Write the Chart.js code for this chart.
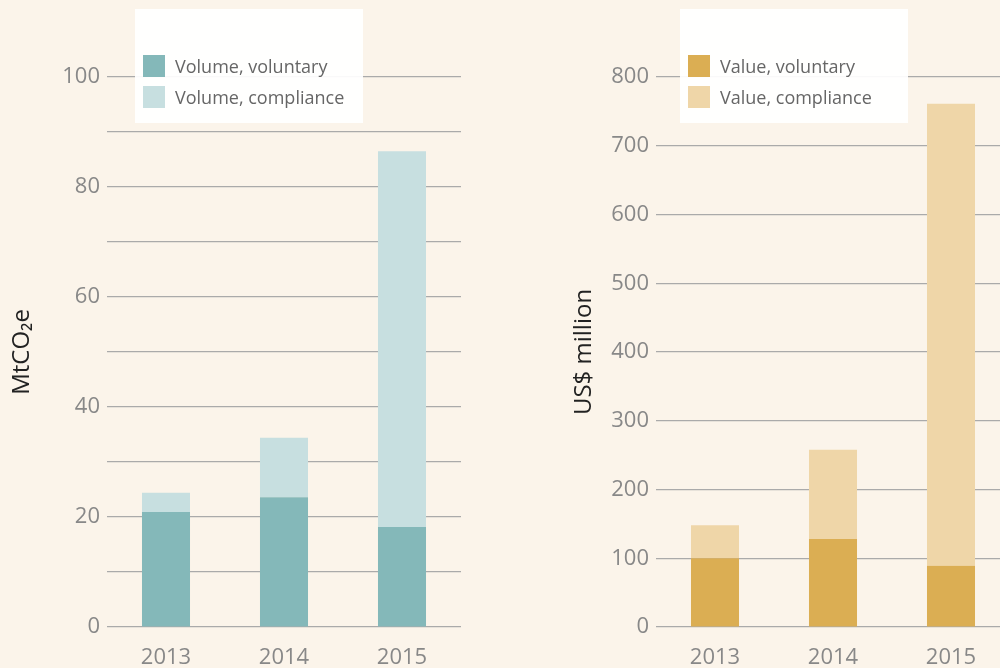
<!DOCTYPE html>
<html>
<head>
<meta charset="utf-8">
<script src="https://cdn.jsdelivr.net/npm/chart.js@4"></script>
<style>
  html, body { margin: 0; padding: 0; background: #fbf4ea; overflow: hidden; width: 1000px; height: 668px; }
  .wrap { position: absolute; top: 0; height: 668px; }
  .legend { position: absolute; top: 9px; width: 228px; height: 114px; background: rgba(255,255,255,0.93);
            font-family: "Open Sans", sans-serif; font-size: 18px; color: #666; }
  .legend .row { position: absolute; left: 8px; height: 22px; line-height: 22px; white-space: nowrap; }
  .legend .sw { display: inline-block; width: 22px; height: 22px; vertical-align: top; margin-right: 10px; }
</style>
</head>
<body>
<div class="wrap" style="left:0;width:480px"><canvas id="volChart" width="480" height="668"></canvas></div>
<div class="wrap" style="left:560px;width:450px"><canvas id="valChart" width="450" height="668"></canvas></div>
<div class="legend" id="volLegend" style="left:135px"></div>
<div class="legend" id="valLegend" style="left:680px"></div>
<script>
const years = ['2013', '2014', '2015'];

// MtCO2e
const volumeVoluntary = [20.9, 23.6, 18.2];
const volumeCompliance = [3.5, 10.8, 68.3];

// US$ million
const valueVoluntary = [100, 128, 89];
const valueCompliance = [48, 130, 672];

const tickFont = { family: '"Open Sans", sans-serif', size: 22 };
const gridColor = '#aaa';

function makeChart(id, sets, yTitle, yMax, step, labelStep, axisWidth, titlePad, padRight) {
     const ctx = document.getElementById(id).getContext('2d');
     return new Chart(ctx, {
          type: 'bar',
          data: {
               labels: years,
               datasets: sets.map(s => ({
                    label: s.label,
                    data: s.data,
                    backgroundColor: s.color,
                    borderWidth: 0,
                    categoryPercentage: 1,
                    barPercentage: 0.407,
               })),
          },
          options: {
               responsive: false,
               animation: false,
               layout: { padding: { top: 77, right: padRight, bottom: 0, left: 0 } },
               plugins: { legend: { display: false }, tooltip: { enabled: false } },
               scales: {
                    x: {
                         stacked: true,
                         grid: { display: false },
                         border: { display: false },
                         ticks: { color: '#888', font: tickFont, padding: 10 },
                         afterFit: s => { s.height = 41; },
                    },
                    y: {
                         stacked: true,
                         min: 0,
                         max: yMax,
                         border: { display: false },
                         grid: { color: gridColor, lineWidth: 1.2, drawTicks: false },
                         ticks: {
                              stepSize: step,
                              color: '#888',
                              font: tickFont,
                              padding: 7,
                              callback: v => (v % labelStep === 0 ? v : ''),
                         },
                         title: {
                              display: true,
                              text: yTitle,
                              color: '#222',
                              font: { family: '"Open Sans", sans-serif', size: 24 },
                              padding: { top: titlePad, bottom: 0 },
                         },
                         afterFit: s => { s.width = axisWidth; },
                    },
               },
          },
     });
}

const volSets = [
     { label: 'Volume, voluntary', data: volumeVoluntary, color: '#84b8b9' },
     { label: 'Volume, compliance', data: volumeCompliance, color: '#c7dfe0' },
];
const valSets = [
     { label: 'Value, voluntary', data: valueVoluntary, color: '#dbae53' },
     { label: 'Value, compliance', data: valueCompliance, color: '#efd6a8' },
];

makeChart('volChart', volSets, 'MtCO₂e', 100, 10, 20, 107, 8, 19);
makeChart('valChart', valSets, 'US$ million', 800, 100, 100, 96, 10, 0);

function fillLegend(id, sets) {
     const box = document.getElementById(id);
     sets.forEach((s, i) => {
          const row = document.createElement('div');
          row.className = 'row';
          row.style.top = (46 + i * 31) + 'px';
          row.innerHTML = '<span class="sw" style="background:' + s.color + '"></span>' + s.label;
          box.appendChild(row);
     });
}
fillLegend('volLegend', volSets);
fillLegend('valLegend', valSets);
</script>
</body>
</html>
